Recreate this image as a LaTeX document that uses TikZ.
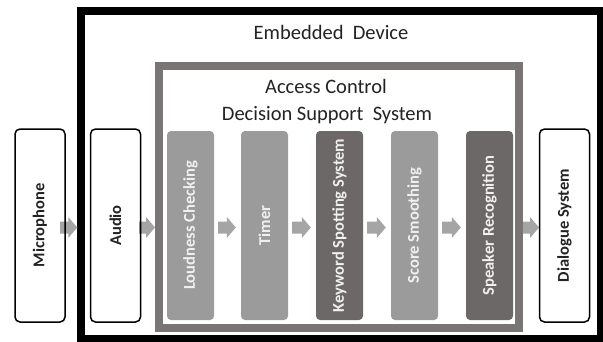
\documentclass[tikz,border=0pt]{standalone}
\usepackage{fontspec}
\usepackage{graphicx}
\setmainfont{Carlito}
\usetikzlibrary{calc}
\definecolor{lightblk}{RGB}{155,155,155}
\definecolor{darkblk}{RGB}{108,104,104}
\definecolor{framegray}{RGB}{121,117,117}
\definecolor{arrgray}{RGB}{165,165,165}
\definecolor{txtdark}{RGB}{35,35,35}
\definecolor{txtlight}{RGB}{240,240,240}
\begin{document}
\begin{tikzpicture}[x=1pt,y=-1pt,
  outerbox/.style={draw=black, line width=7.5pt, inner sep=0pt},
  acsbox/.style={draw=framegray, line width=8pt, inner sep=0pt},
  sidebox/.style={draw=black, line width=1.5pt, rounded corners=5pt, inner sep=0pt,
    minimum width=50pt, minimum height=193pt, text=txtdark,
    font=\fontsize{16.5}{18}\selectfont\bfseries},
  stepblk/.style={fill=lightblk, rounded corners=4pt, inner sep=0pt,
    minimum width=47pt, minimum height=189pt, text=txtlight,
    font=\fontsize{16.5}{18}\selectfont\bfseries},
  darkstep/.style={stepblk, fill=darkblk},
  blkarrow/.style={fill=arrgray, to path={
      ($(\tikztostart)+(0,-6)$) -- ($(\tikztotarget)+(-9,-6)$)
      -- ($(\tikztotarget)+(-9,-10.5)$) -- ($(\tikztotarget)+(0,0)$)
      -- ($(\tikztotarget)+(-9,10.5)$) -- ($(\tikztotarget)+(-9,6)$)
      -- ($(\tikztostart)+(0,6)$) -- cycle}},
  titletxt/.style={anchor=base, text=txtdark, font=\fontsize{20.5}{24}\selectfont, inner sep=0pt}
]
\useasboundingbox (0,0) rectangle (603,341);
\fill[white] (0,0) rectangle (603,341);

% containers
\node[outerbox, minimum width=519.5pt, minimum height=327.5pt] (dev) at (340.75,174.75) {};
\node[acsbox, minimum width=360pt, minimum height=262pt] (acs) at (339,197) {};

% titles
\node[titletxt] (devt) at (331,39) {Embedded\ \ Device};
\node[titletxt] (acst1) at (326,93) {Access Control};
\node[titletxt] (acst2) at (327,120) {Decision Support\ \ System};

% processing steps
\node[stepblk] (loud) at (190.5,225.5) {\rotatebox{90}{Loudness Checking}};
\node[stepblk] (timer) at (264.5,225.5) {\rotatebox{90}{Timer}};
\node[darkstep] (kws) at (339.5,225.5) {\rotatebox{90}{Keyword Spotting System}};
\node[stepblk] (score) at (414.5,225.5) {\rotatebox{90}{Score Smoothing}};
\node[darkstep] (spk) at (489.5,225.5) {\rotatebox{90}{Speaker Recognition}};

% side box centres and arrow level
\coordinate (micc) at (40,225.5);
\coordinate (audc) at (115.5,225.5);
\coordinate (dialc) at (564.5,225.5);
\coordinate (lvl) at (0,227.5);

% arrows
\path[blkarrow] (60,0 |- lvl) to (dev.west |- lvl);
\path[blkarrow] (139,0 |- lvl) to (acs.west |- lvl);
\path[blkarrow] ([xshift=4pt]loud.east |- lvl) to ([xshift=-5pt]timer.west |- lvl);
\path[blkarrow] ([xshift=4pt]timer.east |- lvl) to ([xshift=-5pt]kws.west |- lvl);
\path[blkarrow] ([xshift=4pt]kws.east |- lvl) to ([xshift=-5pt]score.west |- lvl);
\path[blkarrow] ([xshift=4pt]score.east |- lvl) to ([xshift=-5pt]spk.west |- lvl);
\path[blkarrow] (acs.east |- lvl) to (539,0 |- lvl);

% side boxes
\node[sidebox] (mic) at (micc) {\rotatebox{90}{Microphone}};
\node[sidebox] (aud) at (audc) {\rotatebox{90}{Audio}};
\node[sidebox] (dial) at (dialc) {\rotatebox{90}{Dialogue System}};
\end{tikzpicture}
\end{document}
